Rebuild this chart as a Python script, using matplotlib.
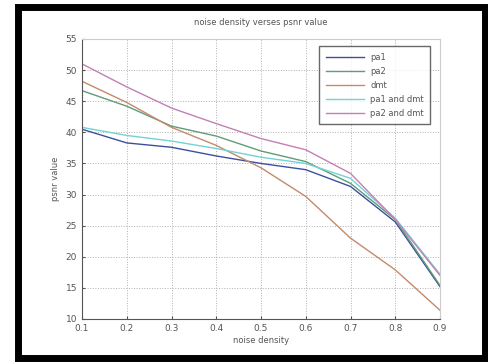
import numpy as np
import matplotlib.pyplot as plt
from matplotlib.patches import Rectangle

noise = [0.1, 0.2, 0.3, 0.4, 0.5, 0.6, 0.7, 0.8, 0.9]
pa1 = [40.5, 38.3, 37.6, 36.2, 35.0, 34.0, 31.3, 25.6, 15.2]
pa2 = [46.7, 44.2, 41.0, 39.4, 37.0, 35.3, 31.8, 26.0, 15.4]
dmt = [48.2, 44.8, 40.8, 37.9, 34.3, 29.7, 23.0, 17.9, 11.4]
pa1_dmt = [40.8, 39.5, 38.6, 37.4, 36.0, 35.0, 32.6, 26.2, 17.2]
pa2_dmt = [51.0, 47.3, 43.9, 41.4, 39.0, 37.2, 33.4, 26.0, 17.0]

names = ['pa1', 'pa2', 'dmt', 'pa1 and dmt', 'pa2 and dmt']
colors = ['#3d4f9c', '#5f9c78', '#c48a6c', '#72d2d6', '#c47fb4']

fig = plt.figure(figsize=(4.88, 3.64), dpi=100)
ax = fig.add_axes([82/488, 45/364, 358/488, 280/364])

for ys, name, c in zip([pa1, pa2, dmt, pa1_dmt, pa2_dmt], names, colors):
    ax.plot(noise, ys, color=c, lw=1.0, label=name)

ax.set_xlim(0.1, 0.9)
ax.set_ylim(10, 55)
ax.set_xticks(noise)
ax.set_yticks(range(10, 56, 5))
ax.grid(True, ls=':', color='#b0b0b0', lw=0.7)
ax.tick_params(labelsize=6.5, colors='#555555', length=2, direction='in')
for s in ['left', 'bottom']:
    ax.spines[s].set_color('#555555')
for s in ['top', 'right']:
    ax.spines[s].set_color('#cccccc')

ax.set_title('noise density verses psnr value', fontsize=6, color='#555555', pad=10)
ax.set_xlabel('noise density', fontsize=6, color='#555555', labelpad=2)
ax.set_ylabel('psnr value', fontsize=6, color='#555555', labelpad=4)

leg = ax.legend(loc='upper right', fontsize=6, frameon=True, fancybox=False,
                edgecolor='#444444', handlelength=4.5, labelspacing=0.6,
                borderpad=0.8, bbox_to_anchor=(0.985, 0.99))
leg.get_frame().set_linewidth(1.0)
for t in leg.get_texts():
    t.set_color('#555555')

# black frame around the picture
W, H = 488, 364
fig.patches.append(Rectangle((17.5/W, 6.5/H), 467.5/W, 351/H, transform=fig.transFigure,
                             fill=False, edgecolor='black', lw=5.0))

fig.savefig('out.png', dpi=100, facecolor='white')
